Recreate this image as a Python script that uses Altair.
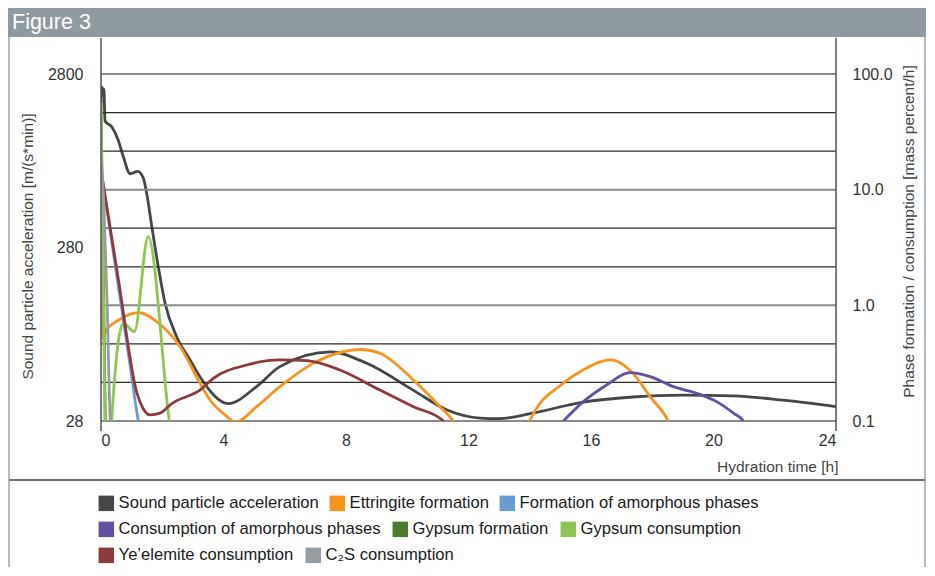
import altair as alt
import pandas as pd

F = "Liberation Sans, Arial, Helvetica, sans-serif"

series = ["Sound particle acceleration", "Ettringite formation", "Formation of amorphous phases",
          "Consumption of amorphous phases", "Gypsum formation", "Gypsum consumption",
          "Ye\u2019elemite consumption", "C\u2082S consumption"]
colors = ["#464646", "#F7941D", "#6A9BD1", "#6350A2", "#4A7C2B", "#8DC653", "#8E3A3A", "#959DA3"]
legend_rows = [[0, 1, 2], [3, 4, 5], [6, 7]]

# Sound particle acceleration (left axis, m/(s*min))
sound_t = [0, 0.03, 0.065, 0.095, 0.13, 0.35, 0.56, 0.73, 0.95, 1.2, 1.38, 1.49, 1.66, 1.87, 2.09,
           2.47, 2.91, 3.23, 4.16, 5.08, 5.84, 7.5, 8.68, 10.19, 11.3, 12.38, 13.0, 14.1,
           15.74, 17.37, 19.0, 20.64, 22.27, 24.0]
sound_v = [1907, 2355, 2206, 2296, 1500, 1391, 1167, 934, 745, 770, 705, 577, 369, 217, 134,
           85.7, 62.9, 50.4, 35.3, 44.2, 57.6, 70, 60.2, 42.2, 32.4, 29.1, 28.9, 31.1,
           36.0, 38.5, 39.5, 39.1, 36.9, 33.9]

# Phase formation / consumption (right axis, mass percent/h)
ett_t = [0, 0.04, 0.14, 0.58, 1.23, 1.88, 2.58, 3.23, 3.56, 4.05, 4.4, 5.08, 5.84, 6.93, 8.5, 9.11,
         10.2, 11.07, 11.5, 12.5, 13.5, 14.0, 15.09, 15.74, 16.65, 17.37, 17.93, 18.52, 18.6]
ett_v = [14.8, 0.52, 0.591, 0.747, 0.864, 0.70, 0.44, 0.213, 0.152, 0.113, 0.098, 0.133, 0.198, 0.315,
         0.415, 0.385, 0.226, 0.133, 0.1, 0.03, 0.03, 0.1, 0.212, 0.276, 0.338, 0.258, 0.162,
         0.1, 0.09]
famo_t = [0, 0.62, 0.95, 1.22, 1.3]
famo_v = [14.8, 1.18, 0.305, 0.1, 0.08]
camo_t = [15.1, 15.75, 16.51, 17.27, 17.93, 18.69, 19.56, 20.1, 20.65, 20.97, 21.05]
camo_v = [0.1, 0.147, 0.205, 0.262, 0.242, 0.198, 0.170, 0.147, 0.117, 0.1, 0.09]
gypf_t = [0, 0.14, 0.16]
gypf_v = [59.6, 0.1, 0.08]
gypc_t = [0, 0.13, 0.2, 0.3, 0.35, 0.73, 1.09, 1.54, 2.23, 2.28]
gypc_v = [56, 0.1, 0.03, 0.03, 0.1, 0.70, 0.591, 3.92, 0.1, 0.08]
yee_t = [0, 0.57, 1.17, 1.37, 1.6, 1.93, 2.32, 3.23, 3.67, 4.76, 5.84, 6.72, 7.8, 9.11, 10.2, 11.18, 11.25]
yee_v = [14.8, 1.66, 0.175, 0.129, 0.113, 0.117, 0.142, 0.185, 0.234, 0.305, 0.337, 0.333, 0.276,
         0.185, 0.133, 0.1, 0.09]
c2s_t = [0, 0.088, 0.196, 0.304, 0.33]
c2s_v = [18.0, 8.15, 1.11, 0.1, 0.08]

x_ticks = [0, 4, 8, 12, 16, 20, 24]
left_ticks = [28, 280, 2800]
right_ticks = [0.1, 1, 10, 100]
grid_major = [0.1, 1, 10, 100]
grid_minor = [0.2154, 0.4642, 2.154, 4.642, 21.54, 46.42]

W, H = 735, 347

x_enc = alt.X("t:Q", scale=alt.Scale(domain=[0, 24], nice=False, zero=False),
              axis=alt.Axis(values=x_ticks, grid=False, ticks=False, domain=False, labelFont=F,
                            labelFontSize=16, labelColor="#333", labelPadding=11,
                            title="Hydration time [h]", titleFont=F, titleFontSize=15.5,
                            titleFontWeight="normal", titleColor="#444", titleX=737, titleY=45,
                            titleAlign="right", titleBaseline="middle"))

left_axis = alt.Axis(orient="left", values=left_ticks, format="d", grid=False, ticks=False, domain=False,
                     labelFont=F, labelFontSize=16, labelColor="#333", labelPadding=18,
                     title="Sound particle acceleration [m/(s*min)]", titleFont=F, titleFontSize=15.5,
                     titleFontWeight="normal", titleColor="#444", titleAngle=270, titleX=-74, titleY=172,
                     titleAlign="center", titleBaseline="middle")
right_axis = alt.Axis(orient="right", values=right_ticks, format=".1f", grid=False, ticks=False, domain=False,
                      labelFont=F, labelFontSize=16, labelColor="#333", labelPadding=16,
                      title="Phase formation / consumption [mass percent/h]", titleFont=F, titleFontSize=15.5,
                      titleFontWeight="normal", titleColor="#444", titleAngle=270, titleX=72, titleY=157,
                      titleAlign="center", titleBaseline="middle")
right_scale = alt.Scale(type="log", domain=[0.1, 100], nice=False)
y_right = alt.Y("v:Q", scale=right_scale, axis=right_axis)

sound = alt.Chart(pd.DataFrame({"t": sound_t, "v": sound_v, "i": range(len(sound_t))})).mark_line(
    interpolate="monotone", strokeWidth=2.8, clip=True, color=colors[0]).encode(
    x=x_enc,
    y=alt.Y("v:Q", scale=alt.Scale(type="log", domain=[28, 2800], nice=False), axis=left_axis),
    order="i:Q")

grid_min = alt.Chart(pd.DataFrame({"v": grid_minor})).mark_rule(color="#2b2b2b", strokeWidth=1.2).encode(
    y=y_right, x=alt.value(0), x2=alt.value(W))
grid_maj = alt.Chart(pd.DataFrame({"v": grid_major})).mark_rule(color="#8a8a8a", strokeWidth=2).encode(
    y=y_right, x=alt.value(0), x2=alt.value(W))

phase_data = [(ett_t, ett_v), (famo_t, famo_v), (camo_t, camo_v), (gypf_t, gypf_v),
              (gypc_t, gypc_v), (yee_t, yee_v), (c2s_t, c2s_v)]
phase_layers = []
for k, (ts, vs) in enumerate(phase_data, start=1):
    df = pd.DataFrame({"t": ts, "v": vs, "i": range(len(ts))})
    phase_layers.append(
        alt.Chart(df).mark_line(interpolate="monotone", strokeWidth=2.8, clip=True, color=colors[k]).encode(
            x=x_enc, y=y_right, order="i:Q"))

# empty layers that only provide the filled-square legend, one legend per row (flowing layout)
row_pad = [10, 11, 11]
leg_layers = []
for r, idx in enumerate(legend_rows):
    names = [series[j] for j in idx]
    cols = [colors[j] for j in idx]
    leg = alt.Legend(title=None, orient="none", legendX=-3, legendY=421 + 26 * r, direction="horizontal",
                     symbolType="square", symbolSize=240, symbolStrokeWidth=0, symbolOpacity=1,
                     labelFont=F, labelFontSize=16.6, labelColor="#1a1a1a", labelOffset=4,
                     columnPadding=row_pad[r], labelLimit=400, padding=0)
    leg_layers.append(
        alt.Chart(pd.DataFrame({"series": names})).transform_filter("false").mark_square(
            filled=True, size=240, opacity=1).encode(
            fill=alt.Fill("series:N", scale=alt.Scale(domain=names, range=cols), legend=leg)))
legend_group = alt.layer(*leg_layers).resolve_scale(fill="independent").resolve_legend(fill="independent")

deco_df = pd.DataFrame({"a": [0]})
base = alt.Chart(deco_df)
title_bar = base.mark_rect(color="#8F9AA0").encode(x=alt.value(-93), x2=alt.value(825),
                                                   y=alt.value(-66), y2=alt.value(-37))
title_txt = base.mark_text(text="Figure 3", color="white", fontSize=21.5, font=F, align="left",
                           baseline="alphabetic").encode(x=alt.value(-89), y=alt.value(-45))
frame_l = base.mark_rule(color="#9AA3A8", strokeWidth=1.5).encode(x=alt.value(-92), y=alt.value(-37), y2=alt.value(493))
frame_r = base.mark_rule(color="#9AA3A8", strokeWidth=1.5).encode(x=alt.value(824), y=alt.value(-37), y2=alt.value(493))
sep = base.mark_rule(color="#707070", strokeWidth=2).encode(x=alt.value(-92), x2=alt.value(824), y=alt.value(406))
axis_l = base.mark_rule(color="#555", strokeWidth=1.5).encode(x=alt.value(0), y=alt.value(-36), y2=alt.value(357))
axis_r = base.mark_rule(color="#555", strokeWidth=1.5).encode(x=alt.value(W), y=alt.value(-36), y2=alt.value(357))

right_layer = alt.layer(grid_min, grid_maj, *phase_layers, legend_group, title_bar, title_txt,
                        frame_l, frame_r, sep, axis_l, axis_r)

chart = alt.layer(sound, right_layer).resolve_scale(y="independent").properties(
    width=W, height=H, autosize=alt.AutoSizeParams(type="none"),
    padding={"left": 93, "top": 66, "right": 90, "bottom": 146}
).configure_view(stroke=None).configure(background="white")

chart.save("out.html", embed_options={"renderer": "svg", "actions": False})
